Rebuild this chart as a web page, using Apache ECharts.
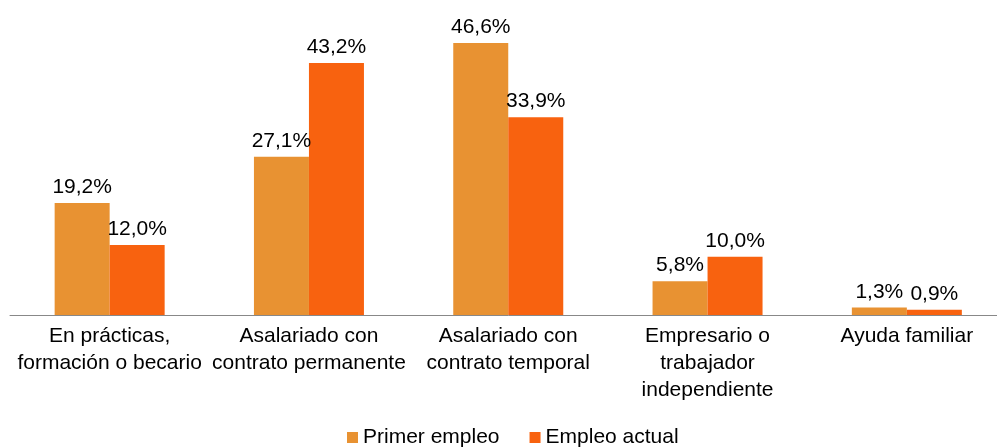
<!DOCTYPE html>
<html><head><meta charset="utf-8">
<script src="https://cdn.jsdelivr.net/npm/echarts@6/dist/echarts.min.js"></script>
<style>html,body{margin:0;padding:0;background:#fff;overflow:hidden}#c{width:1010px;height:448px}</style>
</head><body><div id="c"></div>
<script>
var categories = ["En prácticas,\nformación o becario", "Asalariado con\ncontrato permanente", "Asalariado con\ncontrato temporal", "Empresario o\ntrabajador\nindependiente", "Ayuda familiar"];
var primerEmpleo = [19.2, 27.1, 46.6, 5.8, 1.3];
var empleoActual = [12.0, 43.2, 33.9, 10.0, 0.9];
var seriesNames = ["Primer empleo", "Empleo actual"];

var font = "Liberation Sans, Arial, sans-serif";
function fmt(p){ return p.value.toFixed(1).replace('.', ',') + '%'; }
var chart = echarts.init(document.getElementById('c'), null, {renderer:'canvas'});
chart.setOption({
  animation:false,
  grid:{left:10, width:996.5, top:23.2, height:291.8, containLabel:false},
  legend:{top:422, left:342, itemWidth:11, itemHeight:11, itemGap:30, icon:'rect',
    textStyle:{fontFamily:font, fontSize:21, color:'#000'}, data:seriesNames},
  xAxis:{type:'category', data:categories,
    axisLine:{lineStyle:{color:'#888', width:1}}, axisTick:{show:false},
    axisLabel:{fontFamily:font, fontSize:21, color:'#000', lineHeight:27, margin:7.5, interval:0}},
  yAxis:{type:'value', min:0, max:50, show:false, splitLine:{show:false}},
  series:[
    {name:seriesNames[0], type:'bar', data:primerEmpleo, barWidth:55, barGap:'0%',
     itemStyle:{color:'#E89232'},
     label:{show:true, position:'top', distance:5, formatter:fmt, fontFamily:font, fontSize:21, color:'#000'}},
    {name:seriesNames[1], type:'bar', data:empleoActual, barWidth:55, barGap:'0%',
     itemStyle:{color:'#F8620F'},
     label:{show:true, position:'top', distance:5, formatter:fmt, fontFamily:font, fontSize:21, color:'#000'}}
  ]
});
</script></body></html>
